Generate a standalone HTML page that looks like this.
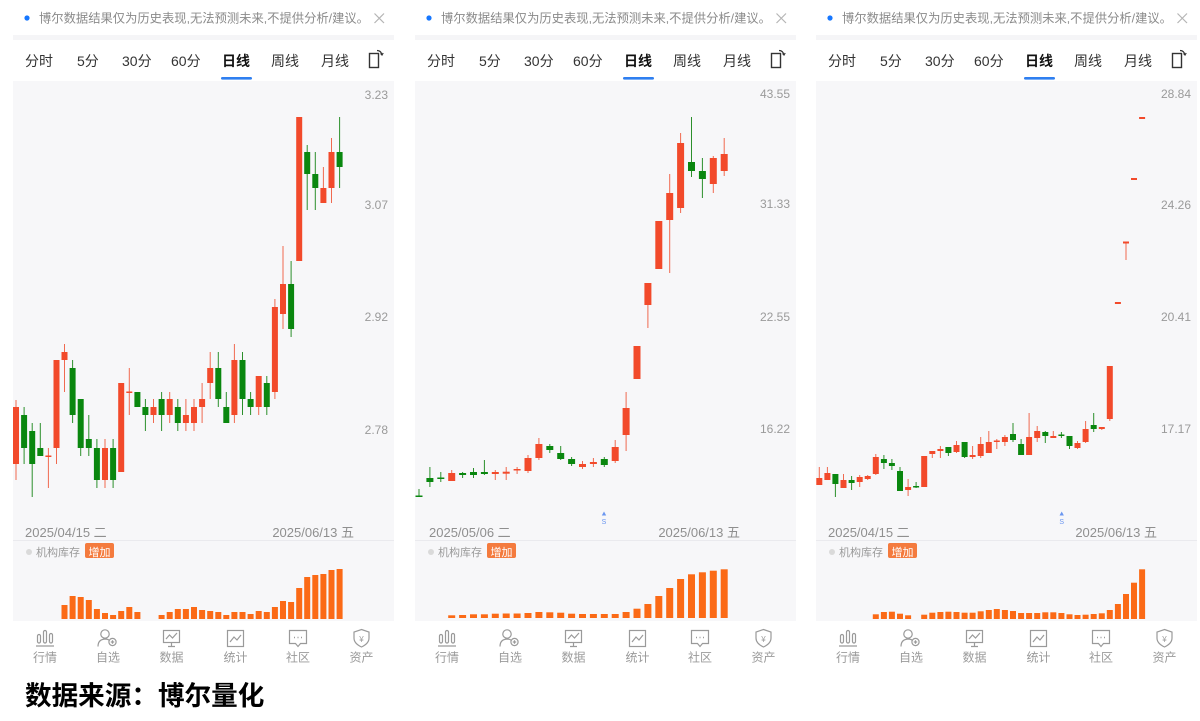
<!DOCTYPE html>
<html><head><meta charset="utf-8"><style>
html,body{margin:0;padding:0;background:#fff;}
body{width:1200px;height:721px;overflow:hidden;}
svg{display:block;font-family:"Liberation Sans","Noto Sans CJK SC",sans-serif;}
.hd{font-size:12.3px;fill:#8a8a8a;}
.tab{font-size:14px;fill:#333;}
.tabb{font-size:14px;fill:#111;font-weight:bold;}
.ax{font-size:12px;fill:#9a9a9a;}
.dt{font-size:13px;fill:#8f8f8f;}
.lb{font-size:11px;fill:#9a9a9a;}
.nv{font-size:12px;fill:#9a9a9a;text-anchor:middle;}
.ic{fill:none;stroke:#9a9a9a;stroke-width:1.2;}
.r{fill:#f24a2b;} .g{fill:#0a870f;}
.rw{stroke:#f06a50;stroke-width:1;fill:none;} .gw{stroke:#2c8f2c;stroke-width:1;fill:none;}
.v{fill:#fb6a16;}
</style></head><body>
<svg width="1200" height="721" viewBox="0 0 1200 721">
<g id="p1">
<circle cx="27" cy="18" r="2.6" fill="#1677ff"/>
<text class="hd" x="39" y="22.5">博尔数据结果仅为历史表现,无法预测未来,不提供分析/建议。</text>
<path d="M374.5 13.5L384 23M384 13.5L374.5 23" stroke="#b5b5b5" stroke-width="1.2"/>
<rect x="13" y="35" width="381" height="5" fill="#f5f5f7"/>
<text class="tab" x="25" y="66">分时</text>
<text class="tab" x="77" y="66">5分</text>
<text class="tab" x="122" y="66">30分</text>
<text class="tab" x="171" y="66">60分</text>
<text class="tabb" x="222" y="66">日线</text>
<text class="tab" x="271" y="66">周线</text>
<text class="tab" x="321" y="66">月线</text>
<rect x="369.5" y="53.5" width="9" height="14" fill="none" stroke="#333" stroke-width="1.4"/>
<path d="M377 50.5q4 0 5 4.5M380.5 53.5l1.5 1.5 1.2-2" fill="none" stroke="#333" stroke-width="1.2"/>
<rect x="221" y="77" width="31" height="2.6" rx="1.3" fill="#2f7ff0"/>
<rect x="13" y="81" width="381" height="540" fill="#f7f7f9"/>
<line x1="13" y1="540.5" x2="394" y2="540.5" stroke="#eaeaee" stroke-width="1"/>
<text class="ax" x="388" y="99" text-anchor="end">3.23</text>
<text class="ax" x="388" y="209" text-anchor="end">3.07</text>
<text class="ax" x="388" y="321" text-anchor="end">2.92</text>
<text class="ax" x="388" y="434" text-anchor="end">2.78</text>
<text class="dt" x="25" y="537">2025/04/15 二</text>
<text class="dt" x="354" y="537" text-anchor="end">2025/06/13 五</text>
<circle cx="29" cy="552" r="3" fill="#dadada"/>
<text class="lb" x="36" y="556">机构库存</text>
<rect x="85" y="543" width="29" height="15" rx="2" fill="#f47b3e"/>
<text x="99.5" y="556" font-size="11" fill="#fff" text-anchor="middle">增加</text>
</g>

<g id="p2">
<circle cx="429" cy="18" r="2.6" fill="#1677ff"/>
<text class="hd" x="441" y="22.5">博尔数据结果仅为历史表现,无法预测未来,不提供分析/建议。</text>
<path d="M776.5 13.5L786 23M786 13.5L776.5 23" stroke="#b5b5b5" stroke-width="1.2"/>
<rect x="415" y="35" width="381" height="5" fill="#f5f5f7"/>
<text class="tab" x="427" y="66">分时</text>
<text class="tab" x="479" y="66">5分</text>
<text class="tab" x="524" y="66">30分</text>
<text class="tab" x="573" y="66">60分</text>
<text class="tabb" x="624" y="66">日线</text>
<text class="tab" x="673" y="66">周线</text>
<text class="tab" x="723" y="66">月线</text>
<rect x="771.5" y="53.5" width="9" height="14" fill="none" stroke="#333" stroke-width="1.4"/>
<path d="M779 50.5q4 0 5 4.5M782.5 53.5l1.5 1.5 1.2-2" fill="none" stroke="#333" stroke-width="1.2"/>
<rect x="623" y="77" width="31" height="2.6" rx="1.3" fill="#2f7ff0"/>
<rect x="415" y="81" width="381" height="540" fill="#f7f7f9"/>
<line x1="415" y1="540.5" x2="796" y2="540.5" stroke="#eaeaee" stroke-width="1"/>
<text class="ax" x="790" y="98" text-anchor="end">43.55</text>
<text class="ax" x="790" y="208" text-anchor="end">31.33</text>
<text class="ax" x="790" y="321" text-anchor="end">22.55</text>
<text class="ax" x="790" y="433" text-anchor="end">16.22</text>
<path d="M604 511.5l-2.2 4h4.4z" fill="#6a96f0"/>
<text x="604" y="524" font-size="7" fill="#6a96f0" text-anchor="middle">S</text>
<text class="dt" x="429" y="537">2025/05/06 二</text>
<text class="dt" x="740" y="537" text-anchor="end">2025/06/13 五</text>
<circle cx="431" cy="552" r="3" fill="#dadada"/>
<text class="lb" x="438" y="556">机构库存</text>
<rect x="487" y="543" width="29" height="15" rx="2" fill="#f47b3e"/>
<text x="501.5" y="556" font-size="11" fill="#fff" text-anchor="middle">增加</text>
</g>

<g id="p3">
<circle cx="830" cy="18" r="2.6" fill="#1677ff"/>
<text class="hd" x="842" y="22.5">博尔数据结果仅为历史表现,无法预测未来,不提供分析/建议。</text>
<path d="M1177.5 13.5L1187 23M1187 13.5L1177.5 23" stroke="#b5b5b5" stroke-width="1.2"/>
<rect x="816" y="35" width="381" height="5" fill="#f5f5f7"/>
<text class="tab" x="828" y="66">分时</text>
<text class="tab" x="880" y="66">5分</text>
<text class="tab" x="925" y="66">30分</text>
<text class="tab" x="974" y="66">60分</text>
<text class="tabb" x="1025" y="66">日线</text>
<text class="tab" x="1074" y="66">周线</text>
<text class="tab" x="1124" y="66">月线</text>
<rect x="1172.5" y="53.5" width="9" height="14" fill="none" stroke="#333" stroke-width="1.4"/>
<path d="M1180 50.5q4 0 5 4.5M1183.5 53.5l1.5 1.5 1.2-2" fill="none" stroke="#333" stroke-width="1.2"/>
<rect x="1024" y="77" width="31" height="2.6" rx="1.3" fill="#2f7ff0"/>
<rect x="816" y="81" width="381" height="540" fill="#f7f7f9"/>
<line x1="816" y1="540.5" x2="1197" y2="540.5" stroke="#eaeaee" stroke-width="1"/>
<text class="ax" x="1191" y="98" text-anchor="end">28.84</text>
<text class="ax" x="1191" y="209" text-anchor="end">24.26</text>
<text class="ax" x="1191" y="321" text-anchor="end">20.41</text>
<text class="ax" x="1191" y="433" text-anchor="end">17.17</text>
<path d="M1061.7 511.5l-2.2 4h4.4z" fill="#6a96f0"/>
<text x="1061.7" y="524" font-size="7" fill="#6a96f0" text-anchor="middle">S</text>
<text class="dt" x="828" y="537">2025/04/15 二</text>
<text class="dt" x="1157" y="537" text-anchor="end">2025/06/13 五</text>
<circle cx="832" cy="552" r="3" fill="#dadada"/>
<text class="lb" x="839" y="556">机构库存</text>
<rect x="888" y="543" width="29" height="15" rx="2" fill="#f47b3e"/>
<text x="902.5" y="556" font-size="11" fill="#fff" text-anchor="middle">增加</text>
</g>

<path class="rw" d="M16 400V480M48.4 448V488M56.5 360V464M64.5 344V392M105 439V488M121.2 383V472M129.3 368V415M153.5 399V423M169.7 392V423M185.9 399V431M194 399V431M202.1 383V423M210.2 352V399M234.4 344V423M258.7 376V415M274.9 299V399M283 246V329M299.2 117V261M323.4 167V203M331.5 138V203"/>
<path class="gw" d="M24.1 407V464M32.2 423V497M40.3 423V456M72.6 360V423M80.7 399V456M88.8 415V456M96.9 439V488M113.1 439V488M137.4 392V407M145.4 399V431M161.6 392V431M177.8 399V431M218.3 352V407M226.3 392V423M242.5 352V415M250.6 392V415M266.8 376V415M291.1 261V337M307.2 145V210M315.3 152V210M339.6 117V188"/>
<g class="r">
<rect x="13" y="407" width="6" height="57"/><rect x="45.4" y="455.5" width="6" height="1.5"/><rect x="53.5" y="360" width="6" height="88"/><rect x="61.5" y="352" width="6" height="8"/><rect x="102" y="448" width="6" height="32"/><rect x="118.2" y="383" width="6" height="89"/><rect x="126.3" y="391.5" width="6" height="1.5"/><rect x="150.5" y="407" width="6" height="8"/><rect x="166.7" y="399" width="6" height="16"/><rect x="182.9" y="415" width="6" height="8"/><rect x="191" y="407" width="6" height="16"/><rect x="199.1" y="399" width="6" height="8"/><rect x="207.2" y="368" width="6" height="15"/><rect x="231.4" y="360" width="6" height="55"/><rect x="255.7" y="376" width="6" height="31"/><rect x="271.9" y="307" width="6" height="85"/><rect x="280" y="284" width="6" height="30"/><rect x="296.2" y="117" width="6" height="144"/><rect x="320.4" y="188" width="6" height="15"/><rect x="328.5" y="152" width="6" height="36"/>
</g>
<g class="g">
<rect x="21.1" y="415" width="6" height="33"/><rect x="29.2" y="431" width="6" height="33"/><rect x="37.3" y="448" width="6" height="8"/><rect x="69.6" y="368" width="6" height="47"/><rect x="77.7" y="399" width="6" height="49"/><rect x="85.8" y="439" width="6" height="9"/><rect x="93.9" y="448" width="6" height="32"/><rect x="110.1" y="448" width="6" height="32"/><rect x="134.4" y="392" width="6" height="15"/><rect x="142.4" y="407" width="6" height="8"/><rect x="158.6" y="399" width="6" height="16"/><rect x="174.8" y="407" width="6" height="16"/><rect x="215.3" y="368" width="6" height="31"/><rect x="223.3" y="407" width="6" height="16"/><rect x="239.5" y="360" width="6" height="39"/><rect x="247.6" y="399" width="6" height="8"/><rect x="263.8" y="383" width="6" height="24"/><rect x="288.1" y="284" width="6" height="45"/><rect x="304.2" y="152" width="6" height="22"/><rect x="312.3" y="174" width="6" height="14"/><rect x="336.6" y="152" width="6" height="15"/>
</g>
<g class="v">
<rect x="61.5" y="605" width="6" height="14"/><rect x="69.6" y="596" width="6" height="23"/><rect x="77.7" y="597" width="6" height="22"/><rect x="85.8" y="600" width="6" height="19"/><rect x="93.9" y="609" width="6" height="10"/><rect x="102" y="613" width="6" height="6"/><rect x="110.1" y="615" width="6" height="4"/><rect x="118.2" y="611" width="6" height="8"/><rect x="126.3" y="607" width="6" height="12"/><rect x="134.4" y="612" width="6" height="7"/>
<rect x="158.6" y="615" width="6" height="4"/><rect x="166.7" y="612" width="6" height="7"/><rect x="174.8" y="609" width="6" height="10"/><rect x="182.9" y="609" width="6" height="10"/><rect x="191" y="607" width="6" height="12"/><rect x="199.1" y="610" width="6" height="9"/><rect x="207.2" y="611" width="6" height="8"/><rect x="215.3" y="612" width="6" height="7"/><rect x="223.3" y="615" width="6" height="4"/><rect x="231.4" y="612" width="6" height="7"/><rect x="239.5" y="612" width="6" height="7"/><rect x="247.6" y="614" width="6" height="5"/><rect x="255.7" y="611" width="6" height="8"/><rect x="263.8" y="612" width="6" height="7"/><rect x="271.9" y="607" width="6" height="12"/><rect x="280" y="601" width="6" height="18"/><rect x="288.1" y="602" width="6" height="17"/><rect x="296.2" y="588" width="6" height="31"/><rect x="304.2" y="577" width="6" height="42"/><rect x="312.3" y="575" width="6" height="44"/><rect x="320.4" y="574" width="6" height="45"/><rect x="328.5" y="570" width="6" height="49"/><rect x="336.6" y="569" width="6" height="50"/>
</g>

<path class="rw" d="M451.7 470V481M495.3 470V480M506.2 467V480M517.1 467V474M528 455V473M538.9 438V460M582.5 461V469M593.4 458V467M615.2 440V463M626.1 392V451M637 346V379M647.9 283V328M658.8 221V269M669.7 174V273M680.6 133V213M713.3 156V193M724.2 138V176"/>
<path class="gw" d="M419 489V497M429.9 467V487M440.8 472V482M462.6 472V478M473.5 468V478M484.4 460V475M549.8 444V453M560.7 446V460M571.6 457V466M604.3 457V467M691.5 117V177M702.4 158V198"/>
<g class="r">
<rect x="448.2" y="473" width="7" height="8"/><rect x="491.8" y="472" width="7" height="2"/><rect x="502.7" y="471.7" width="7" height="2"/><rect x="513.6" y="469" width="7" height="1.5"/><rect x="524.5" y="458" width="7" height="13"/><rect x="535.4" y="444" width="7" height="14"/><rect x="579" y="464" width="7" height="3"/><rect x="589.9" y="462" width="7" height="2"/><rect x="611.7" y="447" width="7" height="14"/><rect x="622.6" y="408" width="7" height="27"/><rect x="633.5" y="346" width="7" height="33"/><rect x="644.4" y="283" width="7" height="22"/><rect x="655.3" y="221" width="7" height="48"/><rect x="666.2" y="193" width="7" height="27"/><rect x="677.1" y="143" width="7" height="65"/><rect x="709.8" y="158" width="7" height="26"/><rect x="720.7" y="154" width="7" height="17"/>
</g>
<g class="g">
<rect x="415.5" y="495.5" width="7" height="1.5"/><rect x="426.4" y="478" width="7" height="4"/><rect x="437.3" y="477.5" width="7" height="1.5"/><rect x="459.1" y="473" width="7" height="2"/><rect x="470" y="472" width="7" height="3"/><rect x="480.9" y="472" width="7" height="2"/><rect x="546.3" y="446" width="7" height="4"/><rect x="557.2" y="453" width="7" height="6"/><rect x="568.1" y="459" width="7" height="5"/><rect x="600.8" y="459" width="7" height="6"/><rect x="688" y="162" width="7" height="9"/><rect x="698.9" y="171" width="7" height="8"/>
</g>
<g class="v">
<rect x="448.2" y="615.3" width="7" height="2.7"/><rect x="459.1" y="615" width="7" height="3"/><rect x="470" y="614.3" width="7" height="3.7"/><rect x="480.9" y="614.3" width="7" height="3.7"/><rect x="491.8" y="613.7" width="7" height="4.3"/><rect x="502.7" y="613.5" width="7" height="4.5"/><rect x="513.6" y="613.5" width="7" height="4.5"/><rect x="524.5" y="613" width="7" height="5"/><rect x="535.4" y="612" width="7" height="6"/><rect x="546.3" y="612.3" width="7" height="5.7"/><rect x="557.2" y="612.7" width="7" height="5.3"/><rect x="568.1" y="613.7" width="7" height="4.3"/><rect x="579" y="614" width="7" height="4"/><rect x="589.9" y="614" width="7" height="4"/><rect x="600.8" y="614" width="7" height="4"/><rect x="611.7" y="614" width="7" height="4"/><rect x="622.6" y="612" width="7" height="6"/><rect x="633.5" y="608.7" width="7" height="9.3"/><rect x="644.4" y="604" width="7" height="14"/><rect x="655.3" y="596" width="7" height="22"/><rect x="666.2" y="588" width="7" height="30"/><rect x="677.1" y="579" width="7" height="39"/><rect x="688" y="574.3" width="7" height="43.7"/><rect x="698.9" y="572.3" width="7" height="45.7"/><rect x="709.8" y="570.7" width="7" height="47.3"/><rect x="720.7" y="569.3" width="7" height="48.7"/>
</g>

<path class="rw" d="M819.3 467V485M827.4 467V480M843.5 474V488M859.7 475V487M867.7 475V480M875.8 454V475M908.1 479V496M924.2 456V487M932.3 451V458M940.4 446V458M956.5 441V453M972.6 446V459M980.7 437V458M988.8 431V453M996.8 439V449M1004.9 435V446M1029.1 413V455M1037.2 426V442M1053.3 431V438M1077.5 441V449M1085.6 421V443M1101.8 427V430M1109.8 366V421M1126 242V260"/>
<path class="gw" d="M835.4 474V497M851.6 476V490M883.9 455V469M891.9 459V470M900 467V491M916.1 482V488M948.4 447V456M964.6 442V458M1013 423V442M1021.1 439V455M1045.3 431V443M1061.4 432V438M1069.5 436V449M1093.7 413V432"/>
<g class="r">
<rect x="816.3" y="478" width="6" height="7"/><rect x="824.4" y="473" width="6" height="7"/><rect x="840.5" y="480" width="6" height="8"/><rect x="856.7" y="477" width="6" height="5"/><rect x="864.7" y="476" width="6" height="3"/><rect x="872.8" y="457" width="6" height="17"/><rect x="905.1" y="487" width="6" height="3"/><rect x="921.2" y="456" width="6" height="31"/><rect x="929.3" y="451" width="6" height="3"/><rect x="937.4" y="449" width="6" height="2"/><rect x="953.5" y="445" width="6" height="7"/><rect x="969.6" y="455" width="6" height="2"/><rect x="977.7" y="444" width="6" height="12"/><rect x="985.8" y="442" width="6" height="11"/><rect x="993.8" y="440.5" width="6" height="1.5"/><rect x="1001.9" y="437" width="6" height="5"/><rect x="1026.1" y="437" width="6" height="18"/><rect x="1034.2" y="431" width="6" height="7"/><rect x="1050.3" y="436" width="6" height="2"/><rect x="1074.5" y="443" width="6" height="5"/><rect x="1082.6" y="429" width="6" height="13"/><rect x="1098.8" y="427" width="6" height="2"/><rect x="1106.8" y="366" width="6" height="53"/><rect x="1114.9" y="302" width="6" height="2"/><rect x="1123" y="241.5" width="6" height="2"/><rect x="1131" y="178" width="6" height="2"/><rect x="1139.1" y="117" width="6" height="2"/>
</g>
<g class="g">
<rect x="832.4" y="474" width="6" height="10"/><rect x="848.6" y="480" width="6" height="3"/><rect x="880.9" y="459" width="6" height="4"/><rect x="888.9" y="463" width="6" height="3"/><rect x="897" y="471" width="6" height="20"/><rect x="913.1" y="486" width="6" height="1.5"/><rect x="945.4" y="447" width="6" height="6"/><rect x="961.6" y="442" width="6" height="15"/><rect x="1010" y="434" width="6" height="6"/><rect x="1018.1" y="444" width="6" height="11"/><rect x="1042.3" y="432" width="6" height="4"/><rect x="1058.4" y="434.5" width="6" height="1.5"/><rect x="1066.5" y="436" width="6" height="10"/><rect x="1090.7" y="425" width="6" height="4"/>
</g>
<g class="v">
<rect x="872.8" y="614.3" width="6" height="4.7"/><rect x="880.9" y="612" width="6" height="7"/><rect x="888.9" y="611.7" width="6" height="7.3"/><rect x="897" y="613.7" width="6" height="5.3"/><rect x="905.1" y="615.3" width="6" height="3.7"/>
<rect x="921.2" y="614.7" width="6" height="4.3"/><rect x="929.3" y="612.7" width="6" height="6.3"/><rect x="937.4" y="612" width="6" height="7"/><rect x="945.4" y="611.7" width="6" height="7.3"/><rect x="953.5" y="612" width="6" height="7"/><rect x="961.6" y="612.7" width="6" height="6.3"/><rect x="969.6" y="612.7" width="6" height="6.3"/><rect x="977.7" y="611.3" width="6" height="7.7"/><rect x="985.8" y="610" width="6" height="9"/><rect x="993.8" y="609" width="6" height="10"/><rect x="1001.9" y="610" width="6" height="9"/><rect x="1010" y="611" width="6" height="8"/><rect x="1018.1" y="613" width="6" height="6"/><rect x="1026.1" y="613" width="6" height="6"/><rect x="1034.2" y="613" width="6" height="6"/><rect x="1042.3" y="612.3" width="6" height="6.7"/><rect x="1050.3" y="612.3" width="6" height="6.7"/><rect x="1058.4" y="613" width="6" height="6"/><rect x="1066.5" y="614.3" width="6" height="4.7"/><rect x="1074.5" y="615" width="6" height="4"/><rect x="1082.6" y="614.7" width="6" height="4.3"/><rect x="1090.7" y="614" width="6" height="5"/><rect x="1098.8" y="613.3" width="6" height="5.7"/><rect x="1106.8" y="610" width="6" height="9"/><rect x="1114.9" y="604" width="6" height="15"/><rect x="1123" y="594" width="6" height="25"/><rect x="1131" y="582.7" width="6" height="36.3"/><rect x="1139.1" y="569.3" width="6" height="49.7"/>
</g>

<g id="nav1">
<g class="ic">
<rect x="37.5" y="634.5" width="3" height="8.5" rx="1.5"/><rect x="43.5" y="630.5" width="3" height="12.5" rx="1.5"/><rect x="49.5" y="633.5" width="3" height="9.5" rx="1.5"/><path d="M36 646H54"/>
<circle cx="105" cy="634" r="4.2"/><path d="M98 646.5q0-7 7-7.5q3 0 4.5 1.5"/><circle cx="112.5" cy="642" r="3.6"/><path d="M112.5 640.3v3.4M110.8 642h3.4"/>
<rect x="163.5" y="630.5" width="16" height="12"/><path d="M166 639l3.5-4 3 3 4.5-5M171.5 642.5v3.5M168 646.5h7"/>
<rect x="227.5" y="630.5" width="16" height="16"/><path d="M230 642l4-5 3 3 4-5"/>
<path d="M289.5 630.5h17v13h-6l-2.5 3-2.5-3h-6z"/><path d="M294 637.5h1M297.5 637.5h1M301 637.5h1" stroke-width="1.6"/>
<path d="M361.5 629.5l7.5 2.5v6q0 5.5-7.5 9-7.5-3.5-7.5-9v-6z"/>
</g>
<text x="361.5" y="642" font-size="8" fill="#9a9a9a" text-anchor="middle">¥</text>
<text class="nv" x="45" y="661.5">行情</text><text class="nv" x="108" y="661.5">自选</text><text class="nv" x="171.5" y="661.5">数据</text><text class="nv" x="235.5" y="661.5">统计</text><text class="nv" x="298" y="661.5">社区</text><text class="nv" x="361.5" y="661.5">资产</text>
</g>
<g transform="translate(402,0)">
<g class="ic">
<rect x="37.5" y="634.5" width="3" height="8.5" rx="1.5"/><rect x="43.5" y="630.5" width="3" height="12.5" rx="1.5"/><rect x="49.5" y="633.5" width="3" height="9.5" rx="1.5"/><path d="M36 646H54"/>
<circle cx="105" cy="634" r="4.2"/><path d="M98 646.5q0-7 7-7.5q3 0 4.5 1.5"/><circle cx="112.5" cy="642" r="3.6"/><path d="M112.5 640.3v3.4M110.8 642h3.4"/>
<rect x="163.5" y="630.5" width="16" height="12"/><path d="M166 639l3.5-4 3 3 4.5-5M171.5 642.5v3.5M168 646.5h7"/>
<rect x="227.5" y="630.5" width="16" height="16"/><path d="M230 642l4-5 3 3 4-5"/>
<path d="M289.5 630.5h17v13h-6l-2.5 3-2.5-3h-6z"/><path d="M294 637.5h1M297.5 637.5h1M301 637.5h1" stroke-width="1.6"/>
<path d="M361.5 629.5l7.5 2.5v6q0 5.5-7.5 9-7.5-3.5-7.5-9v-6z"/>
</g>
<text x="361.5" y="642" font-size="8" fill="#9a9a9a" text-anchor="middle">¥</text>
<text class="nv" x="45" y="661.5">行情</text><text class="nv" x="108" y="661.5">自选</text><text class="nv" x="171.5" y="661.5">数据</text><text class="nv" x="235.5" y="661.5">统计</text><text class="nv" x="298" y="661.5">社区</text><text class="nv" x="361.5" y="661.5">资产</text>
</g>
<g transform="translate(803,0)">
<g class="ic">
<rect x="37.5" y="634.5" width="3" height="8.5" rx="1.5"/><rect x="43.5" y="630.5" width="3" height="12.5" rx="1.5"/><rect x="49.5" y="633.5" width="3" height="9.5" rx="1.5"/><path d="M36 646H54"/>
<circle cx="105" cy="634" r="4.2"/><path d="M98 646.5q0-7 7-7.5q3 0 4.5 1.5"/><circle cx="112.5" cy="642" r="3.6"/><path d="M112.5 640.3v3.4M110.8 642h3.4"/>
<rect x="163.5" y="630.5" width="16" height="12"/><path d="M166 639l3.5-4 3 3 4.5-5M171.5 642.5v3.5M168 646.5h7"/>
<rect x="227.5" y="630.5" width="16" height="16"/><path d="M230 642l4-5 3 3 4-5"/>
<path d="M289.5 630.5h17v13h-6l-2.5 3-2.5-3h-6z"/><path d="M294 637.5h1M297.5 637.5h1M301 637.5h1" stroke-width="1.6"/>
<path d="M361.5 629.5l7.5 2.5v6q0 5.5-7.5 9-7.5-3.5-7.5-9v-6z"/>
</g>
<text x="361.5" y="642" font-size="8" fill="#9a9a9a" text-anchor="middle">¥</text>
<text class="nv" x="45" y="661.5">行情</text><text class="nv" x="108" y="661.5">自选</text><text class="nv" x="171.5" y="661.5">数据</text><text class="nv" x="235.5" y="661.5">统计</text><text class="nv" x="298" y="661.5">社区</text><text class="nv" x="361.5" y="661.5">资产</text>
</g>

<text x="25" y="705" font-size="26.6" font-weight="bold" fill="#000" font-family="'Liberation Sans','Noto Sans CJK SC',sans-serif">数据来源：博尔量化</text>
</svg>
</body></html>
